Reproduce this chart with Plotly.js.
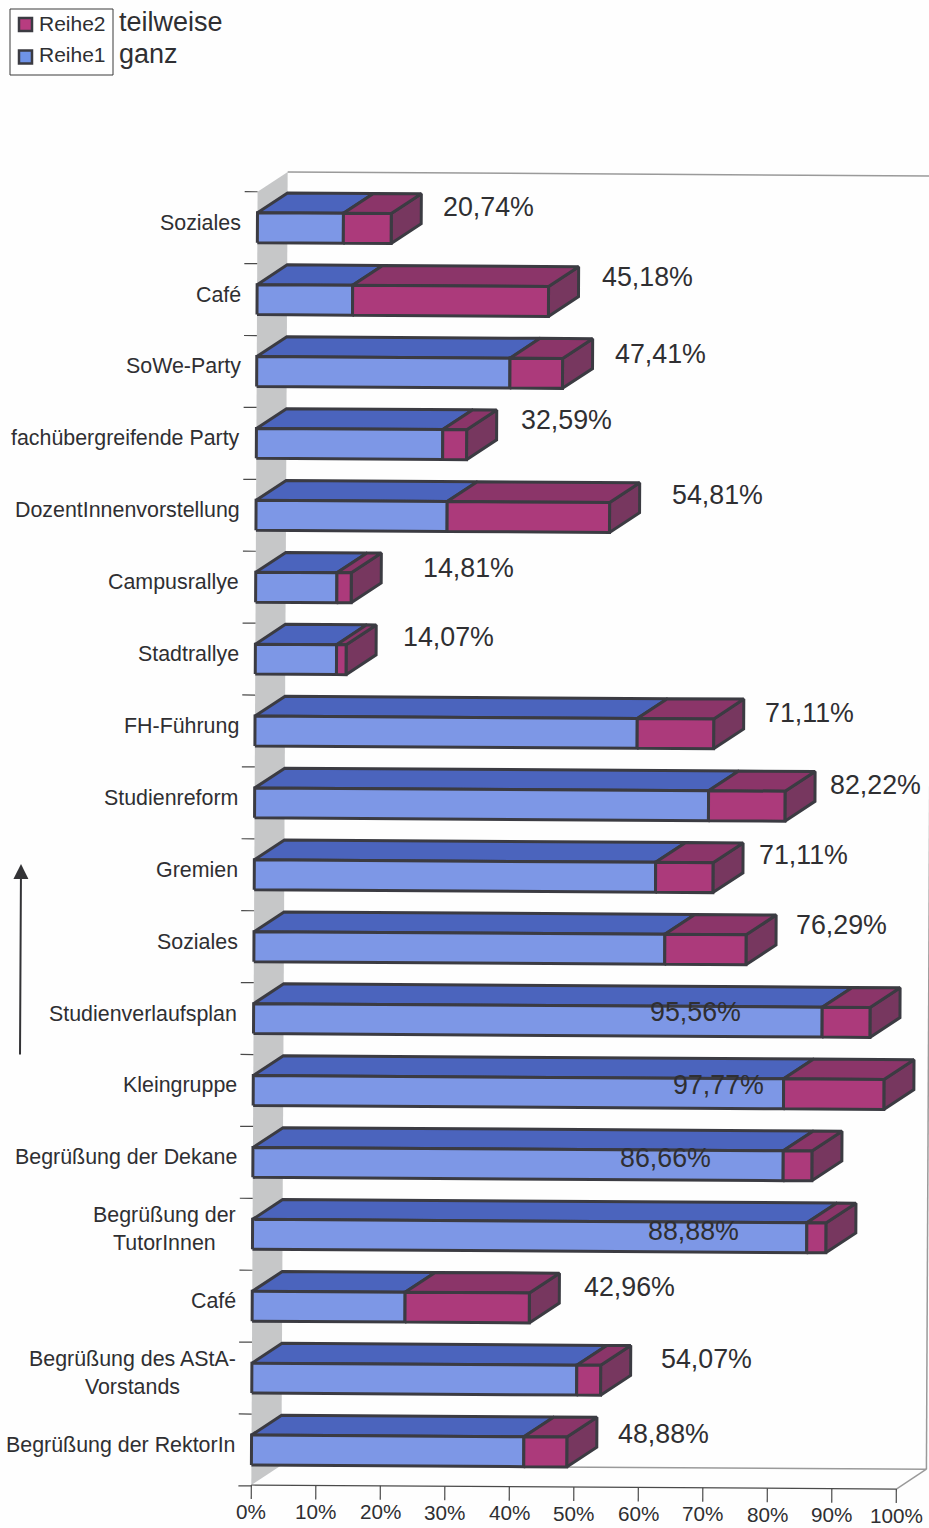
<!DOCTYPE html>
<html>
<head>
<meta charset="utf-8">
<script src="https://cdn.plot.ly/plotly-3.0.1.min.js"></script>
<style>html,body{margin:0;padding:0;background:#fff}</style>
</head>
<body>
<div id="chart" style="width:929px;height:1528px"></div>
<script>
// Survey results, listed from the top row to the bottom row
const categories = ["Soziales","Café","SoWe-Party","fachübergreifende Party","DozentInnenvorstellung",
  "Campusrallye","Stadtrallye","FH-Führung","Studienreform","Gremien","Soziales","Studienverlaufsplan",
  "Kleingruppe","Begrüßung der Dekane","Begrüßung der<br>TutorInnen","Café",
  "Begrüßung des AStA-<br>Vorstands","Begrüßung der RektorIn"];
const ganz = [13.33,14.81,39.26,28.89,29.63,12.59,12.59,59.26,70.37,62.22,63.7,88.15,82.22,82.22,85.93,23.7,50.37,42.22];
const gesamt = [20.74,45.18,47.41,32.59,54.81,14.81,14.07,71.11,82.22,71.11,76.29,95.56,97.77,86.66,88.88,42.96,54.07,48.88];
const xTicks = [0,10,20,30,40,50,60,70,80,90,100];
const keyNames = ["Reihe2","Reihe1"];
const keyMeanings = ["teilweise","ganz"];

// Pixel nudges of the value labels relative to each bar's end
const labelShiftX = [50,51.5,50.5,52.4,60.4,69.8,54.9,49.3,43,44,48,-222,-212.9,-193.9,-179.9,52.7,58.4,49.2];
const labelShiftY = [21.5,24.4,19.4,24.7,22.5,19.8,22.7,20.8,21.2,22.6,24.7,10.4,9.4,7.9,6.9,20.9,21.3,18];

// Oblique projection: slight lean of the whole chart plus the 3D depth vector
const SKEW = 0.054, TILT = 0.00056, DEPTH_X = 4.65, DEPTH_Y = 0.278, HALF = 0.208;
const px = (v, r) => v + SKEW * r;
const py = (v, r) => r - TILT * v;

function poly() {
  const p = {x: [], y: []};
  p.add = (pts) => {
    pts.forEach(([v, r]) => { p.x.push(px(v, r)); p.y.push(py(v, r)); });
    p.x.push(null); p.y.push(null);
  };
  return p;
}

const COL = {line:"#3b3b42", frontB:"#7d97e6", topB:"#4b64bd", frontM:"#ac3a7b", topM:"#8b3569", sideM:"#77375f", text:"#2f2f32"};
const face = (p, fill) => ({type:"scatter", mode:"lines", x:p.x, y:p.y, fill:"toself", fillcolor:fill,
  line:{color:COL.line, width:3}, hoverinfo:"skip", showlegend:false});

const n = categories.length;
const rowOf = (i) => n - 1 - i;

const frontB = poly(), frontM = poly(), topB = poly(), topM = poly(), sideM = poly();
categories.forEach((_, i) => {
  const r = rowOf(i), a = ganz[i], b = gesamt[i];
  const lo = r - HALF, hi = r + HALF, dx = DEPTH_X, dy = DEPTH_Y;
  frontB.add([[0,lo],[a,lo],[a,hi],[0,hi],[0,lo]]);
  frontM.add([[a,lo],[b,lo],[b,hi],[a,hi],[a,lo]]);
  topB.add([[0,hi],[a,hi],[a+dx,hi+dy],[dx,hi+dy],[0,hi]]);
  topM.add([[a,hi],[b,hi],[b+dx,hi+dy],[a+dx,hi+dy],[a,hi]]);
  sideM.add([[b,lo],[b+dx,lo+dy],[b+dx,hi+dy],[b,hi],[b,lo]]);
});

// Chart box: grey side wall, back wall edges, floor
const rBottom = -0.487, rTop = n - 0.5;
const wall = poly();
wall.add([[0,rBottom],[DEPTH_X,rBottom+DEPTH_Y],[DEPTH_X,rTop+DEPTH_Y],[0,rTop],[0,rBottom]]);
const backEdge = poly();
backEdge.add([[DEPTH_X,rTop+DEPTH_Y],[100+DEPTH_X,rTop+DEPTH_Y]]);
backEdge.add([[100+DEPTH_X,rTop+DEPTH_Y],[100+DEPTH_X,rBottom+DEPTH_Y]]);
backEdge.add([[DEPTH_X,rBottom+DEPTH_Y],[100+DEPTH_X,rBottom+DEPTH_Y]]);
backEdge.add([[100,rBottom],[100+DEPTH_X,rBottom+DEPTH_Y]]);
const axisLines = poly();
axisLines.add([[0,rBottom],[100,rBottom]]);
xTicks.forEach(t => axisLines.add([[t,rBottom],[t,rBottom-0.195]]));
for (let k = 0; k <= n; k++) axisLines.add([[-2,k-0.5],[0,k-0.5]]);

const lineTrace = (p, color, w) => ({type:"scatter", mode:"lines", x:p.x, y:p.y, line:{color:color, width:w}, hoverinfo:"skip", showlegend:false});

const traces = [
  {type:"scatter", mode:"lines", x:wall.x, y:wall.y, fill:"toself", fillcolor:"#c6c7c8", line:{width:0, color:"#c6c7c8"}, hoverinfo:"skip", showlegend:false},
  lineTrace(backEdge, "#9a9a9a", 1.5),
  lineTrace(axisLines, "#4a4a4a", 1.2),
  face(sideM, COL.sideM), face(topB, COL.topB), face(topM, COL.topM), face(frontB, COL.frontB), face(frontM, COL.frontM)
];

const annotations = [];
// Category labels
categories.forEach((c, i) => {
  const r = rowOf(i);
  annotations.push({x:px(-2.2,r), y:py(-2.2,r), xref:"x", yref:"y", text:c, showarrow:false,
    xanchor:"right", align:"center", yshift:5, font:{size:21.4, color:COL.text}});
});
// Value labels stating each bar's total
gesamt.forEach((v, i) => {
  const r = rowOf(i);
  annotations.push({x:px(v,r), y:py(v,r), xref:"x", yref:"y", text:v.toFixed(2).replace(".", ",") + "%", showarrow:false,
    xanchor:"left", xshift:labelShiftX[i], yshift:labelShiftY[i], font:{size:26.8, color:COL.text}});
});
// Percentage axis labels
xTicks.forEach(t => {
  annotations.push({x:px(t,rBottom), y:py(t,rBottom), xref:"x", yref:"y", text:t + "%", showarrow:false,
    xanchor:"center", yshift:-26, font:{size:20.7, color:COL.text}});
});

// Key in the top left corner: framed names with swatches, meanings beside the frame
const W = 929, H = 1528;
const fromLeft = (p) => p / W, fromTop = (p) => 1 - p / H;
const keyRowsY = [23, 55];
const keyColours = ["#b83c80", "#6f93e8"];
const shapes = [{type:"rect", xref:"paper", yref:"paper", x0:fromLeft(10), x1:fromLeft(113), y0:fromTop(9), y1:fromTop(75),
  line:{color:"#3a3a3a", width:1}, fillcolor:"#ffffff"}];
keyNames.forEach((name, i) => {
  const cy = keyRowsY[i] + (i === 0 ? 1.5 : 2);
  shapes.push({type:"rect", xref:"paper", yref:"paper", x0:fromLeft(19), x1:fromLeft(32), y0:fromTop(cy-6.5), y1:fromTop(cy+6.5),
    line:{color:COL.line, width:2.5}, fillcolor:keyColours[i]});
  annotations.push({x:fromLeft(37), y:fromTop(keyRowsY[i]), xref:"paper", yref:"paper", text:name, showarrow:false,
    xanchor:"left", yanchor:"middle", font:{size:21, color:COL.text}});
  annotations.push({x:fromLeft(117), y:fromTop(keyRowsY[i] - 1), xref:"paper", yref:"paper", text:keyMeanings[i], showarrow:false,
    xanchor:"left", yanchor:"middle", font:{size:27, color:COL.text}});
});
// Upward arrow at the left margin
annotations.push({x:fromLeft(21), y:fromTop(864), xref:"paper", yref:"paper", axref:"pixel", ayref:"pixel", ax:-1, ay:192, text:"", showarrow:true,
  arrowhead:2, arrowsize:1.5, arrowwidth:2, arrowcolor:"#333336"});

const layout = {
  width:W, height:H, margin:{l:0,r:0,t:0,b:0},
  paper_bgcolor:"#ffffff", plot_bgcolor:"#fefefe",
  font:{family:"'Liberation Sans', Arial, sans-serif", color:COL.text},
  xaxis:{range:[-38.99,105.04], visible:false, fixedrange:true},
  yaxis:{range:[-1.0848,20.167], visible:false, fixedrange:true},
  showlegend:false,
  shapes:shapes,
  annotations:annotations
};

Plotly.newPlot("chart", traces, layout, {displayModeBar:false, staticPlot:true});
</script>
</body>
</html>
